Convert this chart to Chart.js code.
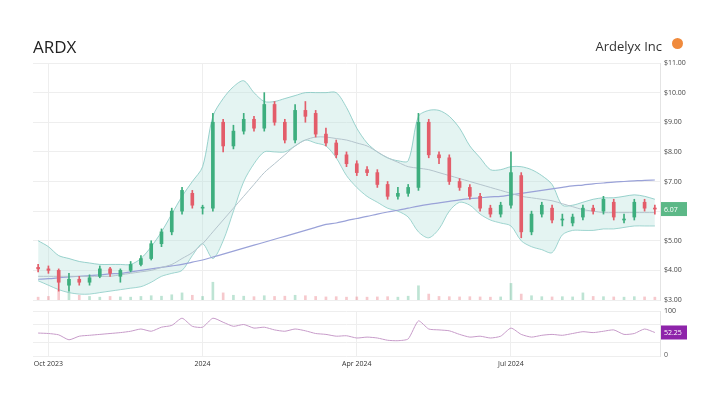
<!DOCTYPE html>
<html><head><meta charset="utf-8">
<script src="https://cdn.jsdelivr.net/npm/chart.js@4/dist/chart.umd.min.js"></script>
<style>
body{margin:0;background:#fff;font-family:"Open Sans",sans-serif;}
#wrap{position:relative;width:720px;height:404px;}
canvas{position:absolute;left:0;top:0;}
#t1{position:absolute;left:33px;top:35px;font-size:17px;color:#222;}
#t2{position:absolute;right:58px;top:37px;font-size:13px;color:#333;}
#ic{position:absolute;left:672px;top:38px;width:11px;height:11px;border-radius:50%;background:#f08a3c;}
#z{position:absolute;left:664px;top:350px;font-size:7px;color:#555;}
</style></head><body>
<div id="wrap">
<canvas id="c1" width="720" height="404"></canvas>
<canvas id="c2" width="720" height="404"></canvas>
<div id="t1">ARDX</div><div id="t2">Ardelyx Inc</div><div id="ic"></div><div id="z">0</div>
</div>
<script>
const dates=["2023-09-27","2023-10-03","2023-10-09","2023-10-15","2023-10-21","2023-10-27","2023-11-02","2023-11-08","2023-11-14","2023-11-20","2023-11-26","2023-12-02","2023-12-08","2023-12-14","2023-12-20","2023-12-26","2024-01-01","2024-01-07","2024-01-13","2024-01-19","2024-01-25","2024-01-31","2024-02-06","2024-02-12","2024-02-18","2024-02-24","2024-03-01","2024-03-07","2024-03-13","2024-03-19","2024-03-25","2024-03-31","2024-04-06","2024-04-12","2024-04-18","2024-04-24","2024-04-30","2024-05-06","2024-05-12","2024-05-18","2024-05-24","2024-05-30","2024-06-05","2024-06-11","2024-06-17","2024-06-23","2024-06-29","2024-07-05","2024-07-11","2024-07-17","2024-07-23","2024-07-29","2024-08-04","2024-08-10","2024-08-16","2024-08-22","2024-08-28","2024-09-03","2024-09-09","2024-09-15","2024-09-21"];
const tickLabels={1:"Oct 2023",16:"2024",31:"Apr 2024",46:"Jul 2024"};
const priceTicks=[3,4,5,6,7,8,9,10,11];
const openP=[4.1,4.05,4.0,3.5,3.7,3.6,3.8,4.05,3.8,4.0,4.2,4.4,4.9,5.3,6.0,6.6,6.1,6.1,9.0,8.2,8.7,9.1,8.8,9.6,9.0,8.4,9.4,9.3,8.6,8.3,7.9,7.6,7.4,7.3,6.9,6.5,6.6,6.8,9.0,7.9,7.8,7.0,6.8,6.5,6.1,5.9,6.2,7.2,5.3,5.9,6.1,5.7,5.6,5.8,6.1,6.0,6.3,5.7,5.8,6.3,6.1];
const closeP=[4.05,4.0,3.6,3.7,3.6,3.75,4.05,3.9,4.0,4.2,4.4,4.9,5.3,6.0,6.7,6.2,6.1,9.0,8.2,8.7,9.1,8.8,9.6,9.0,8.4,9.4,9.2,8.6,8.3,7.9,7.6,7.3,7.3,6.9,6.5,6.6,6.8,9.0,7.9,7.8,7.0,6.8,6.5,6.1,5.9,6.2,7.3,5.3,5.9,6.2,5.7,5.7,5.8,6.1,6.0,6.4,5.8,5.7,6.3,6.1,6.07];
const highP=[4.2,4.15,4.05,3.9,3.8,3.85,4.15,4.1,4.05,4.3,4.5,5.0,5.4,6.1,6.8,6.7,6.2,9.3,9.1,8.9,9.3,9.2,10.0,9.7,9.1,9.6,9.7,9.4,8.8,8.4,8.0,7.7,7.5,7.4,7.0,6.8,6.9,9.3,9.1,8.0,7.9,7.1,6.9,6.6,6.2,6.3,8.0,7.3,6.0,6.3,6.2,5.9,5.9,6.2,6.2,6.5,6.4,5.9,6.4,6.4,6.2];
const lowP=[3.95,3.9,3.3,3.3,3.5,3.5,3.75,3.8,3.6,3.95,4.15,4.35,4.8,5.2,5.9,6.1,5.9,6.0,8.0,8.1,8.6,8.7,8.7,8.9,8.3,8.3,9.0,8.5,8.2,7.8,7.5,7.2,7.2,6.8,6.4,6.4,6.5,6.7,7.8,7.6,6.9,6.7,6.4,6.0,5.8,5.8,6.1,5.1,5.2,5.8,5.6,5.5,5.5,5.7,5.9,5.9,5.7,5.6,5.7,6.0,5.9];
const upperBand=[5.0,4.8,4.5,4.4,4.3,4.25,4.2,4.2,4.2,4.2,4.4,4.8,5.3,5.9,6.5,7.0,7.5,9.2,9.8,10.2,10.4,10.0,9.7,9.7,9.8,9.9,10.0,10.0,10.0,10.0,9.5,8.8,8.3,8.0,7.8,7.7,7.7,9.2,9.4,9.4,9.2,8.8,8.2,7.8,7.4,7.4,7.5,7.5,7.4,7.2,6.9,6.2,6.2,6.3,6.4,6.45,6.45,6.5,6.55,6.5,6.4];
const lowerBand=[3.65,3.5,3.35,3.25,3.2,3.2,3.25,3.3,3.35,3.4,3.45,3.6,3.8,3.9,4.0,4.5,4.9,4.4,5.0,6.0,7.0,7.6,8.0,8.0,8.0,8.2,8.4,8.3,8.2,7.8,7.2,6.8,6.5,6.3,6.1,6.0,5.8,5.3,5.1,5.4,6.0,6.3,6.2,5.9,5.7,5.6,5.5,5.0,4.8,4.7,4.6,5.2,5.35,5.35,5.35,5.4,5.4,5.45,5.5,5.5,5.5];
const ma50=[3.8,3.8,3.8,3.8,3.8,3.8,3.8,3.8,3.85,3.9,3.95,4.0,4.1,4.2,4.4,4.6,4.9,5.3,5.7,6.1,6.5,6.9,7.3,7.6,7.9,8.2,8.4,8.5,8.5,8.45,8.4,8.3,8.2,8.0,7.8,7.65,7.5,7.45,7.4,7.3,7.2,7.1,7.0,6.9,6.8,6.7,6.6,6.5,6.45,6.4,6.35,6.25,6.15,6.05,6.0,5.95,5.95,5.95,5.95,5.95,5.95];
const ma200=[3.7,3.72,3.75,3.78,3.8,3.82,3.85,3.88,3.9,3.95,4.0,4.05,4.1,4.15,4.2,4.28,4.35,4.45,4.55,4.65,4.75,4.85,4.95,5.05,5.15,5.25,5.35,5.45,5.55,5.6,5.68,5.75,5.82,5.9,5.97,6.03,6.1,6.17,6.23,6.28,6.33,6.38,6.42,6.45,6.48,6.5,6.55,6.6,6.65,6.7,6.75,6.8,6.85,6.88,6.92,6.95,6.98,7.0,7.02,7.04,7.05];
const volume=[1.2,1.5,4,3.5,2,1.5,1.2,1.5,1.3,1.2,1.5,1.8,1.6,2.2,3,2,1.5,7.5,3,2,1.6,1.4,1.8,1.5,1.6,2,1.8,1.5,1.3,1.4,1.2,1.3,1.2,1.3,1.4,1.2,1.6,6,2.5,1.5,1.4,1.3,1.4,1.3,1.2,1.3,7,2.5,1.8,1.4,1.3,1.4,1.3,3,1.5,1.4,1.3,1.2,1.4,1.3,1.2];
const rsi=[51,50,47,36,44,46,48,50,52,55,60,55,64,68,84,66,64,84,75,66,70,62,64,58,55,60,56,50,48,44,45,40,42,40,35,34,38,78,60,58,56,48,42,44,40,44,62,48,42,46,48,46,50,54,52,55,58,48,50,60,52.25];

const UP='#3dae7e',DN='#e35d6a';
const isUp=closeP.map((c,i)=>c>=openP[i]);
const candleCol=isUp.map(u=>u?UP:DN);
const gridC='#eeeeee';
const filterTicks=s=>{s.ticks=s.ticks.filter(t=>tickLabels[t.value]!==undefined);};

const labelPlugin=(key,val,bg,txt)=>({id:'lbl'+key,afterDraw(ch){const y=ch.scales[key].getPixelForValue(val);const x=ch.chartArea.right+1;const c=ch.ctx;c.save();c.fillStyle=bg;c.fillRect(x,y-7,26,14);c.fillStyle='#fff';c.font='7px "Open Sans"';c.textBaseline='middle';c.fillText(txt,x+3,y+0.5);c.restore();}});

new Chart(document.getElementById('c1'),{
 type:'bar',
 data:{labels:dates,datasets:[
  {type:'line',data:upperBand,borderColor:'#80c6c0',borderWidth:0.8,pointRadius:0,fill:'+1',backgroundColor:'rgba(178,223,219,0.35)',tension:0.3,order:5},
  {type:'line',data:lowerBand,borderColor:'#80c6c0',borderWidth:0.8,pointRadius:0,fill:false,tension:0.3,order:5},
  {type:'line',data:ma50,borderColor:'#b4c4cc',borderWidth:1,pointRadius:0,fill:false,tension:0.3,order:4},
  {type:'line',data:ma200,borderColor:'#9aa2d8',borderWidth:1.2,pointRadius:0,fill:false,tension:0.3,order:4},
  {data:volume,yAxisID:'v',backgroundColor:candleCol.map(c=>c+'55'),barThickness:2,grouped:false,order:6},
  {data:lowP.map((l,i)=>[l,highP[i]]),backgroundColor:candleCol,barThickness:1,grouped:false,order:1},
  {data:openP.map((o,i)=>[o,closeP[i]]),backgroundColor:candleCol,barThickness:3,grouped:false,order:0,minBarLength:1}
 ]},
 options:{animation:false,responsive:false,events:[],
  layout:{padding:{left:33,top:63,bottom:104,right:0}},
  plugins:{legend:{display:false},tooltip:{enabled:false}},
  scales:{
   x:{display:true,ticks:{display:false},border:{display:false},grid:{color:gridC,offset:false,drawTicks:false},afterBuildTicks:filterTicks,afterFit:s=>{s.height=0;}},
   y:{position:'right',min:3,max:11,afterBuildTicks:s=>{s.ticks=priceTicks.map(v=>({value:v}));},
      ticks:{autoSkip:false,callback:v=>'$'+v.toFixed(2),font:{size:7,family:'"Open Sans"'},color:'#444',padding:4},
      grid:{color:gridC,drawTicks:false},border:{display:true,color:'#e4e4e4'},afterFit:s=>{s.width=60;}},
   v:{display:false,min:0,max:100}
  }},
 plugins:[labelPlugin('y',closeP[closeP.length-1],'#5cb887',closeP[closeP.length-1].toFixed(2))]
});

new Chart(document.getElementById('c2'),{
 type:'line',
 data:{labels:dates,datasets:[{data:rsi,borderColor:'#c79bc9',borderWidth:1,pointRadius:0,tension:0.2}]},
 options:{animation:false,responsive:false,events:[],
  layout:{padding:{left:33,top:311,bottom:0,right:0}},
  plugins:{legend:{display:false},tooltip:{enabled:false}},
  scales:{
   x:{offset:true,afterBuildTicks:filterTicks,ticks:{autoSkip:false,maxRotation:0,callback:(v)=>tickLabels[v],font:{size:7,family:'"Open Sans"'},color:'#333',padding:4},
      grid:{color:gridC,offset:false,drawTicks:false},border:{display:false},afterFit:s=>{s.height=48;}},
   y:{position:'right',min:0,max:100,afterBuildTicks:s=>{s.ticks=[{value:0},{value:30},{value:70},{value:100}];},
      ticks:{autoSkip:false,callback:v=>v===100?'100':'',font:{size:7,family:'"Open Sans"'},color:'#444',padding:4},
      grid:{color:gridC,drawTicks:false},border:{display:true,color:'#e4e4e4'},afterFit:s=>{s.width=60;}}
  }},
 plugins:[labelPlugin('y',rsi[rsi.length-1],'#8e24aa',rsi[rsi.length-1].toFixed(2))]
});
</script></body></html>
